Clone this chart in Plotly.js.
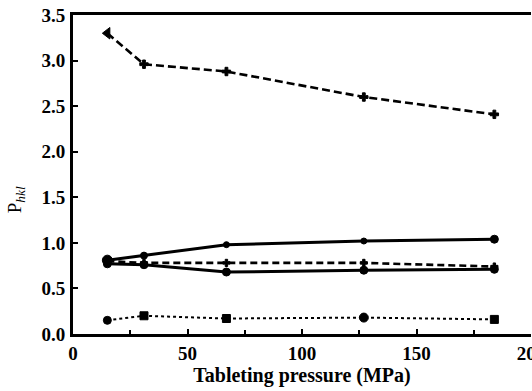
<!DOCTYPE html>
<html>
<head>
<meta charset="utf-8">
<script src="https://cdn.plot.ly/plotly-3.0.1.min.js"></script>
<style>html,body{margin:0;padding:0;background:#fff;}#chart{width:532px;height:391px;}</style>
</head>
<body>
<div id="chart"></div>
<script>
// Tableting pressure (MPa)
const pressure = [15, 31, 67, 127, 184];
// P_hkl series
const seriesA = [3.30, 2.96, 2.88, 2.60, 2.41];   // dashed, cross markers
const seriesB = [0.81, 0.86, 0.98, 1.02, 1.04];   // solid, upper
const seriesC = [0.80, 0.78, 0.78, 0.78, 0.74];   // dashed, middle
const seriesD = [0.77, 0.76, 0.68, 0.70, 0.71];   // solid, circles
const seriesE = [0.15, 0.20, 0.17, 0.18, 0.16];   // dotted, squares
const xTickVals = [0, 50, 100, 150, 200];
const yTickVals = [0.0, 0.5, 1.0, 1.5, 2.0, 2.5, 3.0, 3.5];
const yTickText = ['0.0','0.5','1.0','1.5','2.0','2.5','3.0','3.5'];

const fam = 'Liberation Serif, DejaVu Serif, serif';
const mk = (symbol, size) => ({symbol: symbol, size: size, color: '#000', opacity: 1, line: {color: '#000', width: 1}});

const traces = [
  {x: pressure, y: seriesA, mode: 'lines+markers',
   line: {color: '#000', width: 2.6, dash: '8px,4px'},
   marker: mk(['triangle-left', 'cross', 'cross', 'cross', 'cross'], [10, 7, 7, 7, 7])},
  {x: pressure, y: seriesB, mode: 'lines+markers',
   line: {color: '#000', width: 3},
   marker: mk('circle', [10, 7, 6, 6, 8])},
  {x: pressure, y: seriesC, mode: 'lines+markers',
   line: {color: '#000', width: 2.6, dash: '7px,4px'},
   marker: mk('cross', 6)},
  {x: pressure, y: seriesD, mode: 'lines+markers',
   line: {color: '#000', width: 3},
   marker: mk('circle', 8)},
  {x: pressure, y: seriesE, mode: 'lines+markers',
   line: {color: '#000', width: 2, dash: 'dot'},
   marker: mk(['circle', 'square', 'square', 'circle', 'square'], [8, 8, 8, 9, 8])}
];

const layout = {
  width: 532, height: 391,
  margin: {l: 73, r: 1, t: 15, b: 57},
  paper_bgcolor: '#fff', plot_bgcolor: '#fff',
  showlegend: false,
  font: {family: fam, color: '#000'},
  xaxis: {
    range: [0, 200], tickvals: xTickVals, ticktext: xTickVals.map(String),
    ticks: 'inside', ticklen: 5, tickwidth: 2, tickcolor: '#000',
    minor: {dtick: 25, tick0: 0, ticks: 'inside', ticklen: 4, tickwidth: 2, tickcolor: '#000'},
    showline: true, linewidth: 3, linecolor: '#000', mirror: true,
    showgrid: false, zeroline: false, ticklabeloverflow: 'allow',
    tickfont: {family: fam, size: 19, color: '#000', weight: 'bold'},
    title: {text: 'Tableting pressure (MPa)', font: {family: fam, size: 20, color: '#000', weight: 'bold'}, standoff: 2}
  },
  yaxis: {
    range: [0, 3.5], tickvals: yTickVals, ticktext: yTickText,
    ticks: 'inside', ticklen: 5, tickwidth: 2, tickcolor: '#000',
    showline: true, linewidth: 3, linecolor: '#000', mirror: false,
    showgrid: false, zeroline: false, ticklabelstandoff: 1,
    tickfont: {family: fam, size: 19, color: '#000', weight: 'bold'}
  },
  annotations: [{
    xref: 'paper', yref: 'paper', x: -0.124, y: 0.42, xanchor: 'center', yanchor: 'middle',
    text: 'P<sub><i>hkl</i></sub>', showarrow: false, textangle: -90,
    font: {family: fam, size: 19, color: '#000'}
  }]
};

Plotly.newPlot('chart', traces, layout, {displayModeBar: false, staticPlot: true});
</script>
</body>
</html>
